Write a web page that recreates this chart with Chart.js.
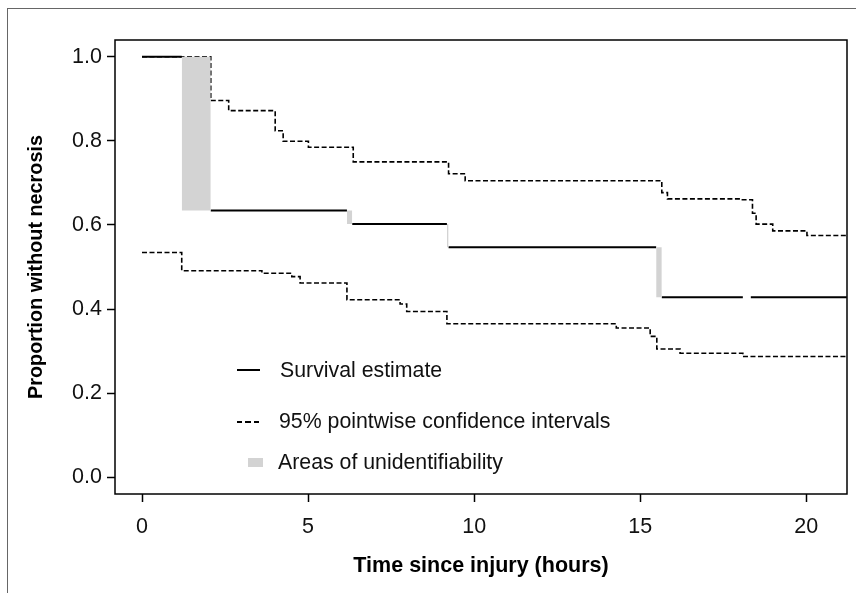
<!DOCTYPE html>
<html>
<head>
<meta charset="utf-8">
<script src="https://cdn.jsdelivr.net/npm/chart.js@4.4.1/dist/chart.umd.min.js"></script>
<style>
    body { margin: 0; background: #fff; }
    #wrap { position: relative; width: 856px; height: 593px; overflow: hidden; }
    #frame {
        position: absolute; left: 7px; top: 8px; width: 900px; height: 700px;
        border-left: 1px solid #666; border-top: 1px solid #666;
    }
    canvas { position: absolute; left: 0; top: 0; }
    .leg { position: absolute; font-family: "Liberation Sans", Arial, Helvetica, sans-serif;
           font-size: 21.3px; color: #111; line-height: 24px; height: 24px; white-space: nowrap; }
    .sym { position: absolute; }
</style>
</head>
<body>
<div id="wrap">
    <div id="frame"></div>
    <canvas id="km-chart" width="856" height="593"></canvas>

    <!-- 圖例 -->
    <div class="sym" style="left:237px; top:369px; width:23px; height:2px; background:#000;"></div>
    <div class="leg" style="left:280px; top:358px;">Survival estimate</div>
    <div class="sym" style="left:237px; top:421px; width:22px; height:1.6px;
         background:repeating-linear-gradient(90deg, #000 0 5px, transparent 5px 8.5px);"></div>
    <div class="leg" style="left:279px; top:409px;">95% pointwise confidence intervals</div>
    <div class="sym" style="left:248px; top:458px; width:15px; height:9px; background:#d3d3d3;"></div>
    <div class="leg" style="left:278px; top:450px;">Areas of unidentifiability</div>
</div>

<script>
// 上側信賴區間 (階梯)
const upperTimes = [0, 2.07, 2.61, 4.01, 4.25, 5.01, 6.36, 9.23, 9.73, 15.65, 15.82, 18.01, 18.38, 18.49, 18.99, 20.02, 21.22];
const upperValues = [1.0, 0.896, 0.872, 0.824, 0.799, 0.785, 0.750, 0.722, 0.705, 0.677, 0.662, 0.660, 0.628, 0.602, 0.586, 0.575, 0.575];

// 下側信賴區間
const lowerTimes = [0, 1.196, 3.61, 4.51, 4.76, 6.17, 7.77, 7.97, 9.18, 14.28, 15.30, 15.50, 16.20, 18.09, 21.22];
const lowerValues = [0.5345, 0.491, 0.485, 0.477, 0.462, 0.422, 0.412, 0.394, 0.365, 0.355, 0.335, 0.305, 0.295, 0.287, 0.287];

// 存活估計 (水平線段)
const survStart = [0, 2.07, 6.33, 9.23, 15.65, 18.33];
const survEnd = [1.196, 6.17, 9.18, 15.48, 18.09, 21.22];
const survValue = [1.0, 0.6345, 0.602, 0.547, 0.428, 0.428];

// 不可識別區域
const grayStart = [1.196, 6.17, 9.18, 15.48];
const grayEnd = [2.07, 6.33, 9.23, 15.65];
const grayLow = [0.6345, 0.602, 0.547, 0.428];
const grayHigh = [1.0, 0.6345, 0.602, 0.547];

const xTicks = [0, 5, 10, 15, 20];
const yTicks = [0, 0.2, 0.4, 0.6, 0.8, 1.0];

const FONT = '"Liberation Sans", Arial, Helvetica, sans-serif';

const datasets = [];

// 灰色區塊：上緣填到下緣
grayStart.forEach((s, i) => {
    datasets.push({
        data: [{ x: s, y: grayHigh[i] }, { x: grayEnd[i], y: grayHigh[i] }],
        borderWidth: 0,
        backgroundColor: '#d3d3d3',
        fill: '+1',
        pointRadius: 0
    });
    datasets.push({
        data: [{ x: s, y: grayLow[i] }, { x: grayEnd[i], y: grayLow[i] }],
        borderWidth: 0,
        fill: false,
        pointRadius: 0
    });
});

const ciStyle = {
    borderColor: '#000',
    borderWidth: 1.6,
    borderDash: [5, 2.5],
    stepped: 'before',
    fill: false,
    pointRadius: 0
};
datasets.push({ ...ciStyle, data: upperTimes.map((t, i) => ({ x: t, y: upperValues[i] })) });
datasets.push({ ...ciStyle, data: lowerTimes.map((t, i) => ({ x: t, y: lowerValues[i] })) });

const survData = [];
survStart.forEach((s, i) => {
    if (i > 0) survData.push({ x: (survEnd[i - 1] + s) / 2, y: null });
    survData.push({ x: s, y: survValue[i] });
    survData.push({ x: survEnd[i], y: survValue[i] });
});
datasets.push({
    data: survData,
    borderColor: '#000',
    borderWidth: 2,
    fill: false,
    spanGaps: false,
    pointRadius: 0
});

// 外框
const boxPlugin = {
    id: 'box',
    afterDatasetsDraw(chart) {
        const { ctx, chartArea: a } = chart;
        ctx.save();
        ctx.strokeStyle = '#000';
        ctx.lineWidth = 1.5;
        ctx.strokeRect(a.left, a.top, a.right - a.left, a.bottom - a.top);
        ctx.restore();
    }
};

new Chart(document.getElementById('km-chart'), {
    type: 'line',
    data: { datasets },
    options: {
        responsive: false,
        animation: false,
        layout: { padding: { left: 0, right: 9, top: 40, bottom: 0 } },
        plugins: { legend: { display: false }, tooltip: { enabled: false } },
        scales: {
            x: {
                type: 'linear',
                min: -0.813,
                max: 21.226,
                afterBuildTicks: s => { s.ticks = xTicks.map(v => ({ value: v })); },
                afterFit: s => { s.height = 99; },
                border: { display: false },
                grid: { drawOnChartArea: false, drawTicks: true, tickLength: 8, tickColor: '#000', tickWidth: 1.5 },
                ticks: { color: '#111', padding: 12, font: { family: FONT, size: 21.5 }, maxRotation: 0 },
                title: {
                    display: true,
                    text: 'Time since injury (hours)',
                    color: '#000',
                    font: { family: FONT, size: 21.5, weight: 'bold' },
                    padding: { top: 0, bottom: 14 }
                }
            },
            y: {
                min: -0.04,
                max: 1.04,
                afterBuildTicks: s => { s.ticks = yTicks.map(v => ({ value: v })); },
                afterFit: s => { s.width = 115; },
                border: { display: false },
                grid: { drawOnChartArea: false, drawTicks: true, tickLength: 8, tickColor: '#000', tickWidth: 1.5 },
                ticks: {
                    color: '#111',
                    padding: 5,
                    font: { family: FONT, size: 21.5 },
                    callback: v => v.toFixed(1)
                },
                title: {
                    display: true,
                    text: 'Proportion without necrosis',
                    color: '#000',
                    font: { family: FONT, size: 19.8, weight: 'bold' },
                    padding: { top: 25, bottom: 0 }
                }
            }
        }
    },
    plugins: [boxPlugin]
});
</script>
</body>
</html>
